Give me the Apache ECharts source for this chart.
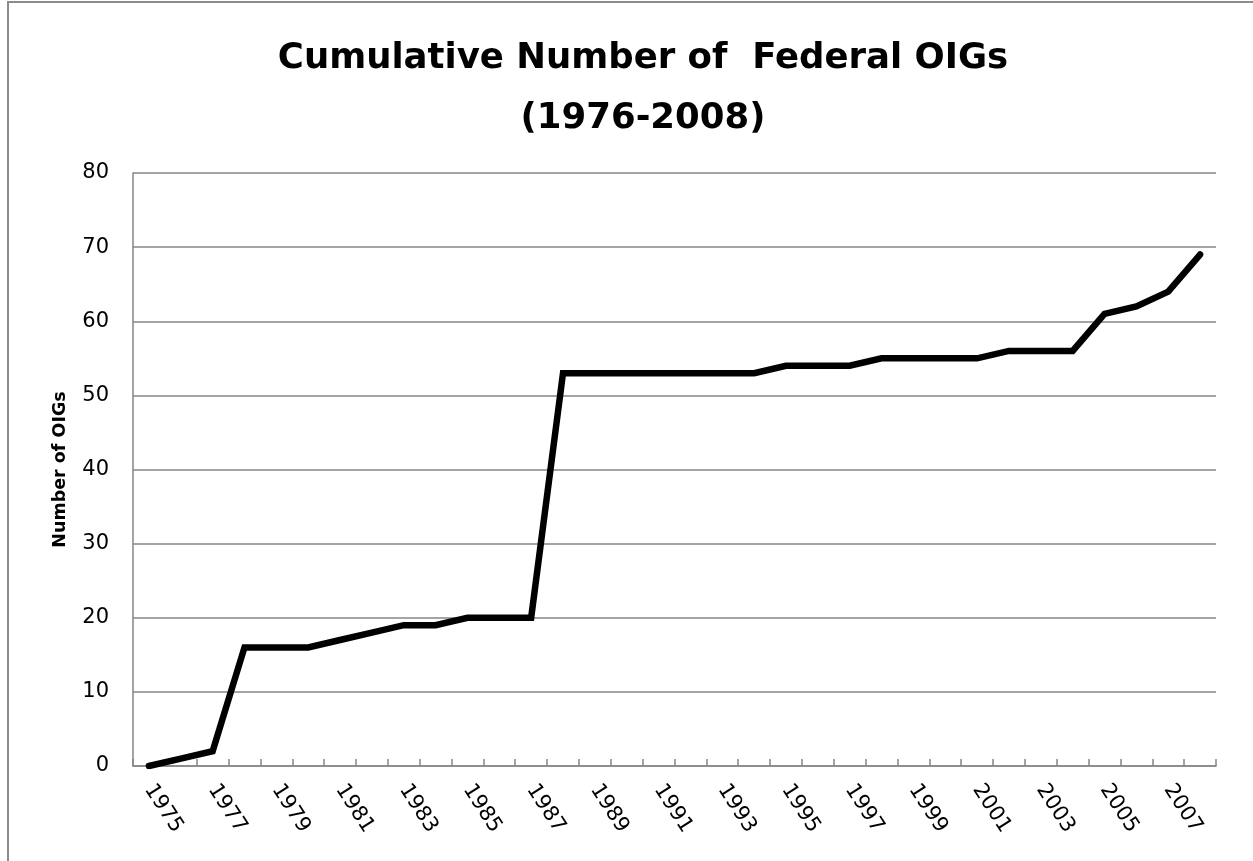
<!DOCTYPE html>
<html>
<head>
<meta charset="utf-8">
<script src="https://cdn.jsdelivr.net/npm/echarts@6/dist/echarts.min.js"></script>
<style>
  html, body { margin: 0; padding: 0; background: #fff; }
  #chart { width: 1253px; height: 861px; }
</style>
</head>
<body>
<div id="chart"></div>
<script>
// years on the category axis
const years = [];
for (let y = 1975; y <= 2008; y++) years.push(String(y));

// cumulative count of OIGs
const oigCount = [
    0, 1, 2, 16, 16, 16, 17, 18, 19, 19,
    20, 20, 20, 53, 53, 53, 53, 53, 53, 53,
    54, 54, 54, 55, 55, 55, 55, 56, 56, 56,
    61, 62, 64, 69
];

const titleText = 'Cumulative Number of  Federal OIGs\n(1976-2008)';
const yName = 'Number of OIGs';
const gridGrey = '#868686';

const chart = echarts.init(document.getElementById('chart'), null, {renderer: 'canvas'});

chart.setOption({
    animation: false,
    backgroundColor: '#fff',
    title: {
        text: titleText,
        left: 638,
        top: 24,
        textAlign: 'center',
        textStyle: {
            fontFamily: 'DejaVu Sans',
            fontWeight: 'bold',
            fontSize: 35.5,
            lineHeight: 60,
            color: '#000'
        }
    },
    graphic: [{
        type: 'rect',
        shape: {x: 8, y: 2, width: 1400, height: 1000},
        style: {fill: 'none', stroke: '#8c8c8c', lineWidth: 2},
        silent: true
    }],
    grid: {
        left: 133,
        right: 37,
        top: 173,
        bottom: 95
    },
    xAxis: {
        type: 'category',
        data: years,
        boundaryGap: true,
        axisLine: {lineStyle: {color: gridGrey, width: 1.5}},
        axisTick: {
            show: true,
            interval: 0,
            inside: true,
            length: 7,
            lineStyle: {color: gridGrey, width: 1.5}
        },
        axisLabel: {
            interval: 1,
            rotate: -57,
            margin: 20,
            color: '#000',
            fontFamily: 'DejaVu Sans',
            fontSize: 21
        },
        splitLine: {show: false}
    },
    yAxis: {
        type: 'value',
        min: 0,
        max: 80,
        interval: 10,
        name: yName,
        nameLocation: 'middle',
        nameGap: 64,
        nameTextStyle: {
            fontFamily: 'DejaVu Sans',
            fontWeight: 'bold',
            fontSize: 17.5,
            color: '#000'
        },
        axisLine: {show: true, lineStyle: {color: gridGrey, width: 1.5}},
        axisTick: {show: false},
        axisLabel: {
            margin: 24,
            color: '#000',
            fontFamily: 'DejaVu Sans',
            fontSize: 21
        },
        splitLine: {lineStyle: {color: gridGrey, width: 1.5}}
    },
    series: [{
        type: 'line',
        data: oigCount,
        symbol: 'none',
        lineStyle: {color: '#000', width: 6.5, cap: 'round', join: 'miter'},
        itemStyle: {color: '#000'}
    }]
});
</script>
</body>
</html>
